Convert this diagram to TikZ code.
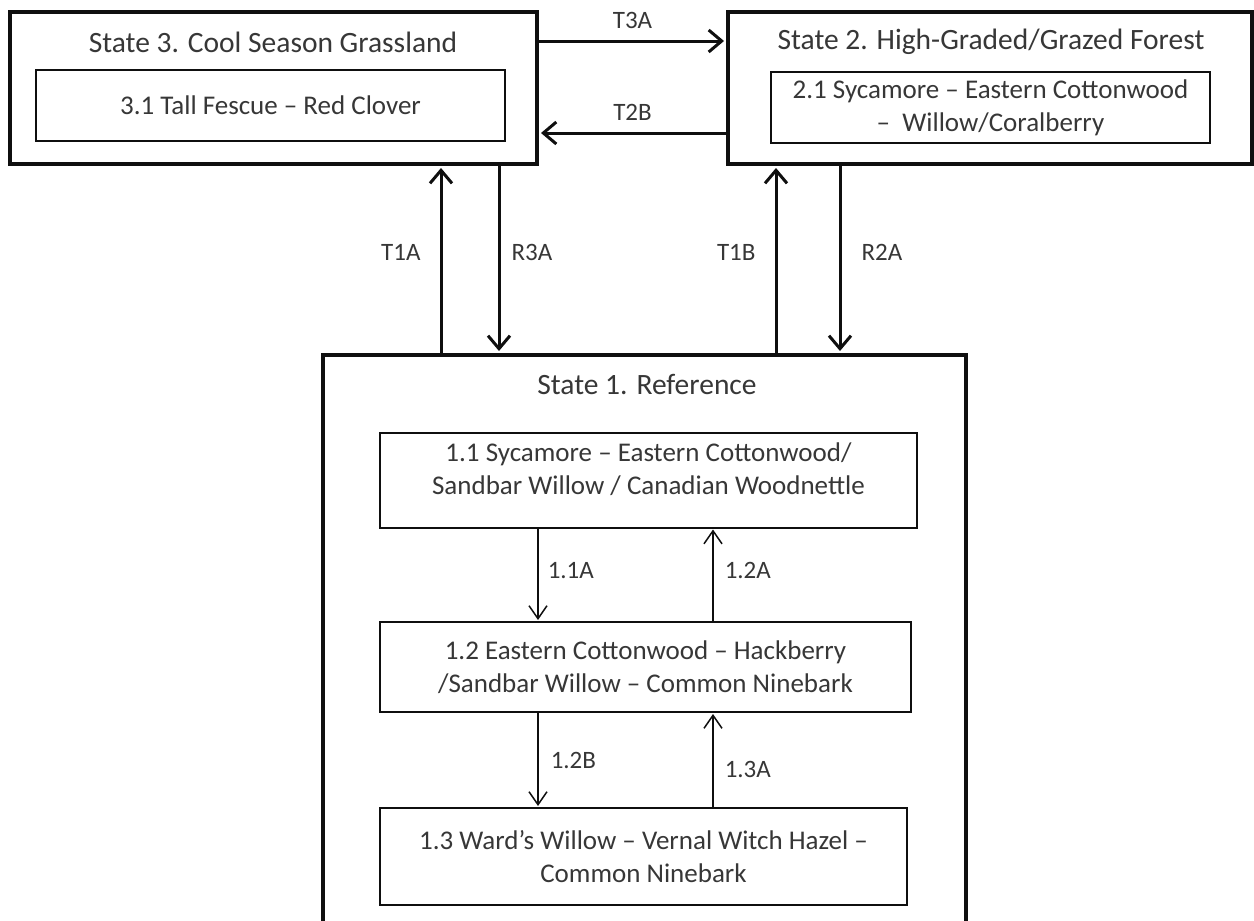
\documentclass[tikz,border=0pt]{standalone}
\usepackage{fontspec}
\setmainfont{Carlito}
\usepackage{tikz}
\usetikzlibrary{arrows.meta, positioning, calc}
\definecolor{STMText}{RGB}{55, 55, 55}
\definecolor{STMLine}{RGB}{15, 15, 15}

\tikzset{
  statebox/.style={draw=STMLine, line width=4pt, inner sep=0pt},
  statetitle/.style={font=\fontsize{29.5}{33}\selectfont, text=STMText, inner sep=0pt},
  phasebox/.style={draw=STMLine, line width=2pt, align=center, inner sep=0pt,
    font=\fontsize{27}{33}\selectfont, text=STMText},
  bigarrow/.style={draw=STMLine, line width=3pt, shorten >=2pt,
    -{Straight Barb[length=13pt, width=22pt, line width=3pt]}},
  smallarrow/.style={draw=STMLine, line width=1.5pt, shorten >=1pt,
    -{Straight Barb[length=13pt, width=18pt, line width=1.5pt]}},
  translabel/.style={font=\fontsize{25}{27}\selectfont, text=STMText, inner sep=0pt}
}

\begin{document}
\begin{tikzpicture}[x=1pt, y=-1pt]
  \useasboundingbox[fill=white] (0,0) rectangle (1254,921);

  % states
  \node[statebox, minimum width=527pt, minimum height=152pt] (s3) at (273.5,88) {};
  \node[statebox, minimum width=524pt, minimum height=152pt] (s2) at (990,88) {};
  \node[statebox, minimum width=643pt, minimum height=595pt] (s1) at (644.5,652.5) {};

  \node[statetitle] (s3t) at (273,42) {State 3. Cool Season Grassland};
  \node[statetitle] (s2t) at (991,42) {State 2. High-Graded/Grazed Forest};
  \node[statetitle] (s1t) at (647,384) {State 1. Reference};

  % phases
  \node[phasebox, minimum width=469pt, minimum height=71pt] (p31) at (270.5,105.5)
    {3.1 Tall Fescue -- Red Clover};
  \node[phasebox, minimum width=439pt, minimum height=71pt] (p21) at (990.5,107.5)
    {2.1 Sycamore -- Eastern Cottonwood\\ -- \ Willow/Coralberry};
  \node[phasebox, minimum width=537pt, minimum height=95pt] (p11) at (648.5,480)
    {1.1 Sycamore -- Eastern Cottonwood/\\Sandbar Willow / Canadian Woodnettle\\[-10pt]};
  \node[phasebox, minimum width=531pt, minimum height=90pt] (p12) at (645.5,667)
    {1.2 Eastern Cottonwood -- Hackberry\\/Sandbar Willow -- Common Ninebark};
  \node[phasebox, minimum width=527pt, minimum height=97pt] (p13) at (643.5,856.5)
    {1.3 Ward's Willow -- Vernal Witch Hazel --\\Common Ninebark};

  % transitions between states
  \coordinate (t3a) at (632,41);
  \coordinate (t2b) at (632,133);
  \coordinate (t1a) at (441,0);
  \coordinate (r3a) at (499,0);
  \coordinate (t1b) at (776,0);
  \coordinate (r2a) at (840,0);

  \draw[bigarrow] (s3.east |- t3a) -- (s2.west |- t3a)
    node[midway, above=11pt, translabel] {T3A};
  \draw[bigarrow] (s2.west |- t2b) -- (s3.east |- t2b)
    node[midway, above=11pt, translabel] {T2B};
  \draw[bigarrow] (s1.north -| t1a) -- (s3.south -| t1a)
    node[pos=0.54, left=19pt, translabel] {T1A};
  \draw[bigarrow] (s3.south -| r3a) -- (s1.north -| r3a)
    node[pos=0.46, right=11pt, translabel] {R3A};
  \draw[bigarrow] (s1.north -| t1b) -- (s2.south -| t1b)
    node[pos=0.54, left=19pt, translabel] {T1B};
  \draw[bigarrow] (s2.south -| r2a) -- (s1.north -| r2a)
    node[pos=0.46, right=20pt, translabel] {R2A};

  % transitions between phases
  \coordinate (down1) at (538,0);
  \coordinate (up1) at (713,0);

  \draw[smallarrow] (p11.south -| down1) -- (p12.north -| down1)
    node[pos=0.45, right=9pt, translabel] {1.1A};
  \draw[smallarrow] (p12.north -| up1) -- (p11.south -| up1)
    node[pos=0.55, right=11pt, translabel] {1.2A};
  \draw[smallarrow] (p12.south -| down1) -- (p13.north -| down1)
    node[midway, right=12pt, translabel] {1.2B};
  \draw[smallarrow] (p13.north -| up1) -- (p12.south -| up1)
    node[pos=0.4, right=11pt, translabel] {1.3A};
\end{tikzpicture}
\end{document}
